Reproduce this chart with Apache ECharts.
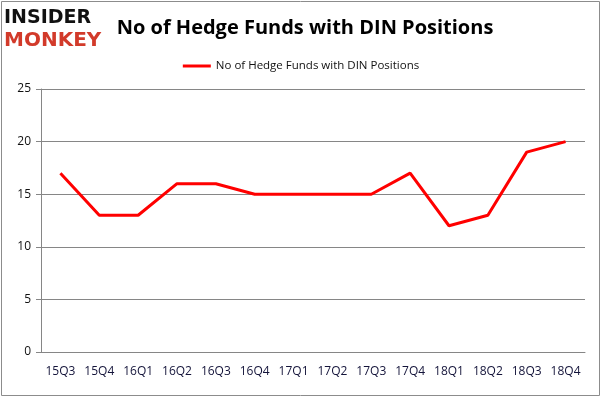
<!DOCTYPE html>
<html>
<head>
<meta charset="utf-8">
<script src="https://cdn.jsdelivr.net/npm/echarts@6/dist/echarts.min.js"></script>
<style>
  html, body { margin: 0; padding: 0; background: #fff; }
  #chart { width: 602px; height: 398px; }
</style>
</head>
<body>
<div id="chart"></div>
<script>
// quarters on the x axis
var quarters = ['15Q3', '15Q4', '16Q1', '16Q2', '16Q3', '16Q4', '17Q1', '17Q2', '17Q3', '17Q4', '18Q1', '18Q2', '18Q3', '18Q4'];
// number of hedge funds holding DIN
var fundCounts = [17, 13, 13, 16, 16, 15, 15, 15, 15, 17, 12, 13, 19, 20];
var seriesName = 'No of Hedge Funds with DIN Positions';

var chart = echarts.init(document.getElementById('chart'), null, { renderer: 'canvas' });

var option = {
    backgroundColor: '#fff',
    animation: false,
    graphic: [
        {
            type: 'rect',
            shape: { x: 1.5, y: 1.5, width: 598, height: 394 },
            style: { fill: 'none', stroke: '#8c8c8c', lineWidth: 1 }
        },
        {
            type: 'text',
            left: 4, top: 9,
            style: { text: 'INSIDER', fill: '#111', font: 'bold 19px "DejaVu Sans"' }
        },
        {
            type: 'text',
            left: 4, top: 31,
            style: { text: 'MONKEY', fill: '#d23a2a', font: 'bold 20px "DejaVu Sans"' }
        }
    ],
    title: {
        text: seriesName,
        left: 300,
        textAlign: 'center',
        top: 13,
        textStyle: { fontFamily: 'Open Sans', fontWeight: 'bold', fontSize: 20, color: '#000' }
    },
    legend: {
        data: [seriesName],
        top: 55,
        left: 'center',
        itemWidth: 28,
        itemHeight: 3,
        itemGap: 4,
        icon: 'rect',
        textStyle: { fontFamily: 'Open Sans', fontSize: 11.5, color: '#111' }
    },
    grid: {
        left: 41,
        right: 17,
        top: 89,
        bottom: 46,
        containLabel: false
    },
    xAxis: {
        type: 'category',
        data: quarters,
        boundaryGap: true,
        axisLine: { lineStyle: { color: '#868686' } },
        axisTick: { length: 5, lineStyle: { color: '#868686' } },
        axisLabel: { interval: 0, color: '#14143a', fontFamily: 'Open Sans', fontSize: 12, margin: 14 }
    },
    yAxis: {
        type: 'value',
        min: 0,
        max: 25,
        interval: 5,
        axisLine: { show: true, lineStyle: { color: '#868686' } },
        axisTick: { show: true, length: 5, lineStyle: { color: '#868686' } },
        axisLabel: { color: '#111', fontFamily: 'Open Sans', fontSize: 12, margin: 10 },
        splitLine: { lineStyle: { color: '#868686' } }
    },
    series: [{
        name: seriesName,
        type: 'line',
        data: fundCounts,
        symbol: 'none',
        color: '#ff0000',
        lineStyle: { width: 3, color: '#ff0000' }
    }]
};

chart.setOption(option);
</script>
</body>
</html>
